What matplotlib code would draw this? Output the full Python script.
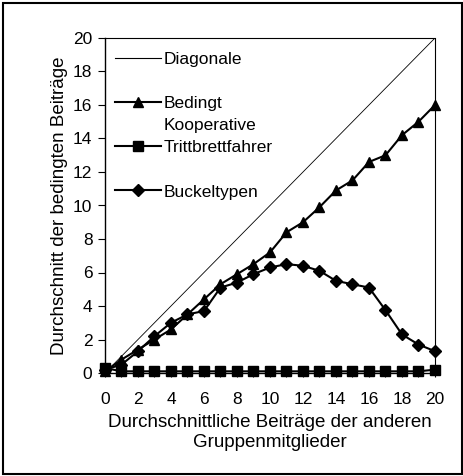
import matplotlib.pyplot as plt
from matplotlib.lines import Line2D
from matplotlib.patches import Rectangle

# Data
beitraege = list(range(0, 21))
diagonale = list(range(0, 21))
bedingt_kooperative = [0.1, 0.8, 1.4, 2.0, 2.6, 3.5, 4.4, 5.3, 5.9, 6.5, 7.2,
                       8.4, 9.0, 9.9, 10.9, 11.5, 12.6, 13.0, 14.2, 15.0, 16.0]
trittbrettfahrer = [0.3, 0.1, 0.1, 0.1, 0.1, 0.1, 0.1, 0.1, 0.1, 0.1, 0.1,
                    0.1, 0.1, 0.1, 0.1, 0.1, 0.1, 0.1, 0.1, 0.1, 0.2]
buckeltypen = [0.2, 0.5, 1.3, 2.2, 3.0, 3.5, 3.7, 5.1, 5.4, 5.9, 6.3,
               6.5, 6.4, 6.1, 5.5, 5.3, 5.1, 3.75, 2.3, 1.7, 1.3]
x_ticks = list(range(0, 21, 2))
y_ticks = list(range(0, 21, 2))

plt.rcParams['font.family'] = ['Liberation Sans', 'DejaVu Sans']
plt.rcParams['font.size'] = 12.5

fig = plt.figure(figsize=(4.64, 4.76), dpi=100)
ax = fig.add_axes([105 / 464, 103 / 476, 330 / 464, 335 / 476])

# outer frame around the whole figure
fig.patches.append(Rectangle((0.006, 0.004), 0.99, 0.99, transform=fig.transFigure,
                             fill=False, lw=1.5, edgecolor='black'))

ax.plot(beitraege, diagonale, color='black', lw=0.6)
ax.plot(beitraege, bedingt_kooperative, color='black', lw=1.5, marker='^',
        markersize=7.5, clip_on=False, zorder=4)
ax.plot(beitraege, trittbrettfahrer, color='black', lw=1.5, marker='s',
        markersize=6.5, clip_on=False, zorder=4)
ax.plot(beitraege, buckeltypen, color='black', lw=1.5, marker='D',
        markersize=6, clip_on=False, zorder=4)

ax.set_xlim(0, 20)
ax.set_ylim(0, 20)
ax.set_xticks(x_ticks)
ax.set_xticks(beitraege, minor=True)
ax.set_yticks(y_ticks)
ax.tick_params(axis='x', which='both', direction='inout', length=6, width=0.8, pad=11)
ax.tick_params(axis='x', which='minor', length=6)
ax.tick_params(axis='y', direction='out', length=5, width=0.8, pad=4)

for side in ['top', 'right']:
    ax.spines[side].set_linestyle((0, (2, 1)))
    ax.spines[side].set_linewidth(0.8)
for side in ['left', 'bottom']:
    ax.spines[side].set_linewidth(1.0)

ax.set_xlabel('Durchschnittliche Beiträge der anderen\nGruppenmitglieder',
              fontsize=13.5, labelpad=5, linespacing=1.2)
ax.set_ylabel('Durchschnitt der bedingten Beiträge', fontsize=13.5, labelpad=4)

# legend with blank rows to mimic the spacing of the original
blank = Line2D([], [], linestyle='none')
handles = [
    Line2D([], [], color='black', lw=0.8),
    blank,
    Line2D([], [], color='black', lw=1.5, marker='^', markersize=7.5),
    blank,
    Line2D([], [], color='black', lw=1.5, marker='s', markersize=6.5),
    blank,
    Line2D([], [], color='black', lw=1.5, marker='D', markersize=6),
]
labels = ['Diagonale', ' ', 'Bedingt', 'Kooperative', 'Trittbrettfahrer', ' ', 'Buckeltypen']
ax.legend(handles, labels, loc='upper left', bbox_to_anchor=(0.0, 0.99),
          frameon=False, handlelength=2.6, handletextpad=0.15, labelspacing=0.4,
          borderaxespad=0.2, fontsize=12.5)

fig.savefig('out.png', dpi=100)
